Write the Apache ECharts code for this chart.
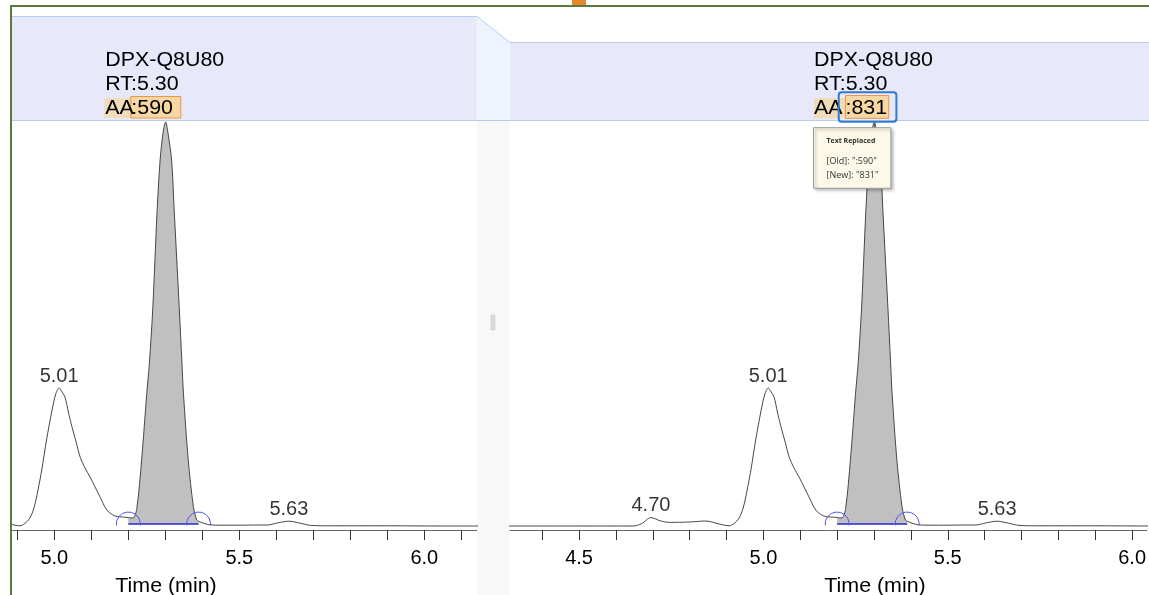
<!DOCTYPE html>
<html><head><meta charset="utf-8">
<script src="https://cdn.jsdelivr.net/npm/echarts@6/dist/echarts.min.js"></script>
<style>html,body{margin:0;padding:0;background:#fff}#c{width:1149px;height:595px}</style>
</head><body><div id="c"></div>
<script>
// ---- data ----
const times = [4.31, 4.50, 4.647, 4.67, 4.695, 4.72, 4.745, 4.80, 4.844, 4.88, 4.907, 4.92, 4.934, 4.945, 4.956, 4.967, 4.979, 4.994, 5.004, 5.013, 5.021, 5.029, 5.038, 5.048, 5.059, 5.07, 5.083, 5.097, 5.11, 5.124, 5.142, 5.164, 5.191, 5.20, 5.213, 5.223, 5.236, 5.25, 5.257, 5.266, 5.272, 5.278, 5.286, 5.295, 5.301, 5.306, 5.317, 5.324, 5.331, 5.338, 5.345, 5.349, 5.362, 5.376, 5.385, 5.39, 5.403, 5.42, 5.45, 5.50, 5.55, 5.576, 5.605, 5.634, 5.665, 5.693, 5.75, 5.90, 6.05, 6.15];
const intensity = [0, 0, 0, 0.6, 2.1, 1.3, 0.9, 1.0, 1.25, 0.5, 0.05, 0.6, 2.0, 4.5, 9.0, 14.5, 21.5, 29.0, 33.0, 34.5, 33.5, 32.2, 28.5, 24.7, 21.0, 17.2, 14.5, 12.2, 9.8, 7.2, 4.0, 2.5, 2.2, 2.1, 2.0, 4.4, 16.5, 33.2, 40.7, 54.0, 66.5, 79.0, 91.5, 99.0, 101.0, 99.0, 91.5, 79.0, 66.5, 54.0, 40.7, 33.2, 16.5, 4.8, 1.5, 1.2, 0.7, 0.3, 0.2, 0.2, 0.25, 0.25, 0.8, 1.2, 0.7, 0.15, 0.05, 0.05, 0, 0];
const peakRTs = [4.70, 5.01, 5.63];
const mainRT = 5.30;
const compoundName = 'DPX-Q8U80';
const areaValues = ['590', '831'];
const oldAreaText = ':590';
const integrationStart = 5.20;
const integrationEnd = 5.39;
const integrationBase = 0.5;
const tickValues = [4.4, 4.5, 4.6, 4.7, 4.8, 4.9, 5.0, 5.1, 5.2, 5.3, 5.4, 5.5, 5.6, 5.7, 5.8, 5.9, 6.0, 6.1];
const tickLabels = [4.5, 5.0, 5.5, 6.0];
const axisTitle = 'Time (min)';

// ---- build ----
const FONT = '"Liberation Sans", Arial, sans-serif';
const curve = times.map((t, i) => [t, intensity[i]]);
const fillData = curve.filter(p => p[0] >= integrationStart - 1e-9 && p[0] <= integrationEnd + 1e-9);
const intPoints = [[integrationStart, integrationBase], [integrationEnd, integrationBase]];
const apexes = peakRTs.map(r => {
  let best = null;
  curve.forEach(p => { if (Math.abs(p[0] - r) < 0.03 && (!best || p[1] > best[1])) best = p; });
  return [best[0], best[1], r.toFixed(2)];
});

const panels = [
  { grid: { left: 12, top: 120, width: 464.7, height: 410 }, min: 4.8857, max: 6.1416 },
  { grid: { left: 510, top: 120, width: 639, height: 410 }, min: 4.3127, max: 6.0397 }
];

const option = {
  animation: false,
  grid: panels.map(p => p.grid),
  xAxis: panels.map((p, i) => ({
    type: 'value', gridIndex: i, min: p.min, max: p.max,
    axisLine: { onZero: false, lineStyle: { color: '#666', width: 1 } },
    axisTick: { show: true, length: 10, lineStyle: { color: '#333' },
      customValues: tickValues.filter(v => v >= p.min && v <= p.max) },
    axisLabel: { customValues: tickLabels.filter(v => v >= p.min && v <= p.max),
      formatter: v => Number(v).toFixed(1), fontSize: 20, fontFamily: FONT, color: '#000', margin: 18 },
    splitLine: { show: false }
  })),
  yAxis: panels.map((p, i) => ({ type: 'value', gridIndex: i, min: -1, max: 101.5, show: false })),
  series: []
};

panels.forEach((p, i) => {
  option.series.push({
    type: 'line', xAxisIndex: i, yAxisIndex: i, data: fillData, smooth: 0.3, symbol: 'none',
    lineStyle: { width: 0 }, areaStyle: { color: '#c0c0c0', opacity: 1, origin: integrationBase }, z: 1
  });
  option.series.push({
    type: 'line', xAxisIndex: i, yAxisIndex: i, data: curve, smooth: 0.3, symbol: 'none',
    lineStyle: { color: '#474747', width: 1 }, z: 3
  });
  option.series.push({
    type: 'line', xAxisIndex: i, yAxisIndex: i, data: intPoints, symbol: 'none',
    lineStyle: { color: '#2626d4', width: 1.5 }, z: 4
  });
  option.series.push({
    type: 'custom', xAxisIndex: i, yAxisIndex: i, data: intPoints, z: 5,
    renderItem: (params, api) => {
      const c = api.coord([api.value(0), api.value(1)]);
      return { type: 'arc', shape: { cx: c[0], cy: c[1], r: 12, startAngle: Math.PI - 0.12, endAngle: 2 * Math.PI + 0.12 },
        style: { stroke: '#5252f0', fill: null, lineWidth: 1 } };
    }
  });
  option.series.push({
    type: 'scatter', xAxisIndex: i, yAxisIndex: i, data: apexes, symbolSize: 0, z: 6,
    label: { show: true, position: 'top', distance: 2, formatter: q => q.data[2],
      fontSize: 20, fontFamily: FONT, color: '#000' }
  });
});

const chart = echarts.init(document.getElementById('c'));
chart.setOption(option);

function rect(x, y, w, h, style, z) { return { type: 'rect', z: z, shape: { x, y, width: w, height: h }, style }; }
function line(x1, y1, x2, y2, stroke, z, w) { return { type: 'line', z: z, shape: { x1, y1, x2, y2 }, style: { stroke, lineWidth: w || 1 } }; }
function txt(x, y, text, size, z, extra, sx) {
  return { type: 'text', z: z, scaleX: sx || 1, originX: x, originY: y,
    style: Object.assign({ x, y, text, fill: '#000', font: size + 'px ' + FONT,
    textAlign: 'left', textVerticalAlign: 'middle', align: 'left', verticalAlign: 'middle' }, extra || {}) };
}
const SX = 1.07;

const px = panels.map((p, i) => chart.convertToPixel({ xAxisIndex: i }, mainRT));
const band = '#e7e9fb', bandLine = '#b9c9ef';
const g = [];
// backgrounds
g.push(rect(476.7, 120, 33.3, 475, { fill: '#f8f8f8' }, -5));
g.push({ type: 'polygon', z: -5, shape: { points: [[476.7, 16], [510, 42.7], [510, 120], [476.7, 120]] }, style: { fill: '#eef3fd' } });
g.push(line(476.7, 16, 510, 42.7, bandLine, -4));
g.push(rect(12, 16, 464.7, 104, { fill: band }, -5));
g.push(rect(510, 42.7, 639, 77.3, { fill: band }, -5));
g.push(line(12, 16.5, 476.7, 16.5, bandLine, -4));
g.push(line(510, 42.5, 1149, 42.5, bandLine, -4));
g.push(line(12, 120.5, 1149, 120.5, bandLine, -4));
g.push(rect(491, 315, 4, 15, { fill: '#dadada', stroke: '#c4c4c4', lineWidth: 0.5 }, -4));
// frame
g.push(rect(10, 5, 1139, 2, { fill: '#5a7b3b' }, 90));
g.push(rect(10, 5, 2, 590, { fill: '#5a7b3b' }, 90));
g.push(rect(572, 0, 14, 5, { fill: '#e48a2c' }, 90));

// header annotations
px.forEach((x, i) => {
  const x0 = x - 60;
  g.push(txt(x0, 60, compoundName, 20, 50, null, SX));
  g.push(txt(x0, 84, 'RT:' + mainRT.toFixed(2), 20, 50, null, SX));
  if (i === 0) {
    g.push(rect(x0 - 1, 98, 27, 20, { fill: '#f1dcba' }, 45));
    g.push(rect(x0 + 25.5, 96.5, 50, 21.5, { fill: '#f7d8a4', stroke: '#ef9646', lineWidth: 1 }, 46));
    g.push(txt(x0, 108, 'AA', 20, 50, null, SX));
    g.push(txt(x0 + 26, 108, ':' + areaValues[0], 20, 50, null, SX));
  } else {
    g.push(rect(x0, 98, 31.5, 20.3, { fill: '#f1dcba' }, 45));
    g.push(rect(x0 + 31.5, 95.5, 43.3, 22.8, { fill: '#f7d8a4', stroke: '#ef9646', lineWidth: 1 }, 46));
    g.push(txt(x0, 108, 'AA', 20, 50, null, SX));
    g.push(txt(x0 + 31.5, 108, ':' + areaValues[1], 20, 50, null, SX));
    g.push({ type: 'rect', z: 52, shape: { x: x0 + 24.7, y: 92.3, width: 57.7, height: 29.4, r: 3 },
      style: { fill: null, stroke: '#2d7bd3', lineWidth: 2 } });
    // replacement tooltip
    g.push(line(x + 0.5, 121.7, x + 0.5, 128, '#666', 95));
    g.push({ type: 'rect', z: 96, shape: { x: x0 - 0.5, y: 127.7, width: 77.4, height: 60.6 },
      style: { fill: '#fdf9e8', stroke: '#9a9a9a', lineWidth: 1, shadowBlur: 3, shadowOffsetX: 2, shadowOffsetY: 2, shadowColor: 'rgba(0,0,0,0.3)' } });
    const tf = '"Open Sans", "Noto Sans", sans-serif';
    g.push(txt(x0 + 12.5, 141, 'Text Replaced', 7, 97, { font: 'bold 7px ' + tf, fill: '#333' }));
    g.push(txt(x0 + 12.5, 161, '[Old]: "' + oldAreaText + '"', 9, 97, { font: '9px ' + tf, fill: '#333' }));
    g.push(txt(x0 + 12.5, 175.7, '[New]: "' + areaValues[1] + '"', 9, 97, { font: '9px ' + tf, fill: '#333' }));
  }
});
// axis titles
g.push(txt(166, 586.5, axisTitle, 20, 50, { textAlign: 'center', align: 'center' }, SX));
g.push(txt(875, 586.5, axisTitle, 20, 50, { textAlign: 'center', align: 'center' }, SX));

chart.setOption({ graphic: { elements: g } });
</script>
</body></html>
